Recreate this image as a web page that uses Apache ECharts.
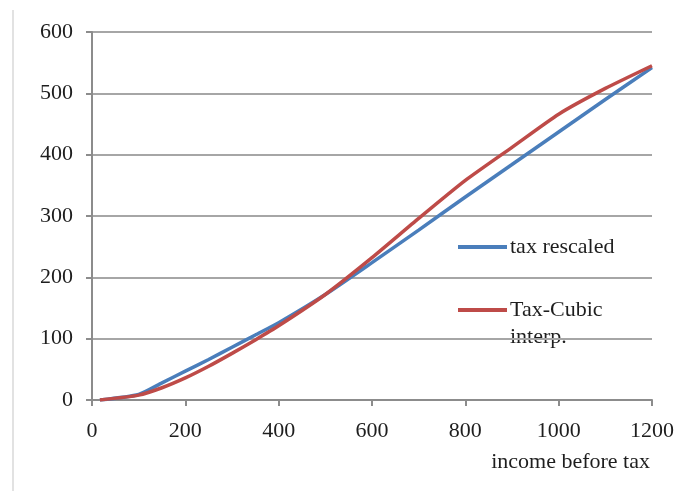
<!DOCTYPE html>
<html>
<head>
<meta charset="utf-8">
<script src="https://cdn.jsdelivr.net/npm/echarts@6/dist/echarts.min.js"></script>
<style>
html,body{margin:0;padding:0;background:#fff;}
#chart{width:689px;height:491px;}
</style>
</head>
<body>
<div id="chart"></div>
<script>
// Data
var incomeValues = [17, 100, 150, 200, 250, 300, 350, 400, 500, 600, 700, 800, 900, 1000, 1100, 1200];
var taxRescaled  = [0, 9, 28, 47, 66, 86, 106, 126, 172, 224, 277, 331, 384, 437, 490, 542];
var taxCubic     = [0, 8, 20, 36, 55, 76, 98, 121, 172, 232, 296, 358, 412, 466, 508, 545];
var seriesNames = ['tax rescaled', 'Tax-Cubic interp.'];
var xTicks = { min: 0, max: 1200, interval: 200 };
var yTicks = { min: 0, max: 600, interval: 100 };
var xAxisTitle = 'income before tax';

function pairs(xs, ys) { return xs.map(function (x, i) { return [x, ys[i]]; }); }

var FONT = '"Liberation Serif", "DejaVu Serif", serif';
var TXT = '#1e1e1e';
var chart = echarts.init(document.getElementById('chart'), null, { renderer: 'canvas' });
chart.setOption({
  backgroundColor: '#ffffff',
  animation: false,
  grid: { left: 92, right: 37, top: 32, bottom: 91, containLabel: false },
  xAxis: {
    type: 'value', min: xTicks.min, max: xTicks.max, interval: xTicks.interval,
    name: xAxisTitle, nameLocation: 'end', nameGap: -2,
    nameTextStyle: { fontFamily: FONT, fontSize: 22, color: TXT, align: 'right', verticalAlign: 'top', padding: [51, 0, 0, 0] },
    axisLine: { show: true, lineStyle: { color: '#8c8c8c', width: 2 } },
    axisTick: { show: true, length: 6, lineStyle: { color: '#8c8c8c', width: 2 } },
    axisLabel: { fontFamily: FONT, fontSize: 22, color: TXT, margin: 20, formatter: function (v) { return String(v); } },
    splitLine: { show: false }
  },
  yAxis: {
    type: 'value', min: yTicks.min, max: yTicks.max, interval: yTicks.interval,
    axisLine: { show: true, lineStyle: { color: '#8c8c8c', width: 2 } },
    axisTick: { show: true, length: 6, lineStyle: { color: '#8c8c8c', width: 2 } },
    axisLabel: { fontFamily: FONT, fontSize: 22, color: TXT, margin: 19, formatter: function (v) { return String(v); } },
    splitLine: { show: true, lineStyle: { color: '#a6a6a6', width: 2 } }
  },
  legend: [
    {
      data: [seriesNames[0]], left: 458, top: 236, padding: 0,
      icon: 'rect', itemWidth: 49, itemHeight: 4,
      textStyle: { fontFamily: FONT, fontSize: 22, color: TXT, padding: [0, 0, 0, -2] }
    },
    {
      data: [seriesNames[1]], left: 458, top: 299, padding: 0,
      icon: 'rect', itemWidth: 49, itemHeight: 4,
      formatter: function (n) { return n.split(' ')[0]; },
      textStyle: { fontFamily: FONT, fontSize: 22, color: TXT, padding: [0, 0, 0, -2] }
    }
  ],
  graphic: [
    { type: 'line', shape: { x1: 13, y1: 10, x2: 13, y2: 491 }, style: { stroke: '#e2e2e2', lineWidth: 2 }, silent: true },
    { type: 'text', left: 510, top: 326, style: { text: seriesNames[1].split(' ')[1], font: '22px ' + FONT, fill: TXT }, silent: true }
  ],
  series: [
    {
      name: seriesNames[0], type: 'line', data: pairs(incomeValues, taxRescaled),
      showSymbol: false, symbol: 'none', smooth: 0.2,
      lineStyle: { color: '#4a7ebb', width: 3.5 }, itemStyle: { color: '#4a7ebb' }, z: 2
    },
    {
      name: seriesNames[1], type: 'line', data: pairs(incomeValues, taxCubic),
      showSymbol: false, symbol: 'none', smooth: 0.2,
      lineStyle: { color: '#be4b48', width: 3.5 }, itemStyle: { color: '#be4b48' }, z: 3
    }
  ]
});
</script>
</body>
</html>
